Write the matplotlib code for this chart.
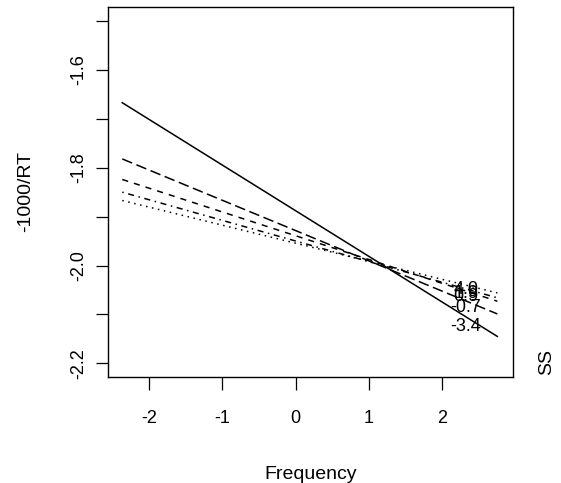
import numpy as np
import matplotlib
matplotlib.use("Agg")
import matplotlib.pyplot as plt

plt.rcParams['font.family'] = ['Liberation Sans', 'DejaVu Sans']
plt.rcParams['axes.unicode_minus'] = False

# effect of Frequency on -1000/RT for several values of SS
ss_labels = ['-3.4', '-0.7', '0.9', '1.9', '4.0']
freq_range = [-2.37, 2.76]
rt_start = [-1.667, -1.782, -1.824, -1.850, -1.867]
rt_end = [-2.145, -2.099, -2.073, -2.066, -2.056]
dash_styles = [(None, None), (7, 3), (4, 4), (1, 3, 4, 3), (1, 3)]

fig = plt.figure(figsize=(5.61, 4.83), dpi=100)
ax = fig.add_axes([0.192, 0.22, 0.723, 0.766])

x = np.array(freq_range)
for lab, y0, y1, d in zip(ss_labels, rt_start, rt_end, dash_styles):
    line, = ax.plot(x, [y0, y1], color='black', lw=1.1)
    if d[0] is not None:
        line.set_dashes(d)
    # label near the right end of each line
    lx, ly = 2.33, np.interp(2.55, x, [y0, y1])
    ax.text(lx, ly, lab, ha='center', va='center', fontsize=13)

ax.set_xlim(-2.569, 2.978)
ax.set_ylim(-2.2274, -1.4708)
ax.set_xticks([-2, -1, 0, 1, 2])
ax.set_yticks(np.arange(-2.2, -1.45, 0.1))
ax.set_yticklabels(['-2.2', '', '-2.0', '', '-1.8', '', '-1.6', ''])
ax.tick_params(axis='both', direction='out', length=9, width=0.9, labelsize=13)
ax.tick_params(axis='x', pad=15)
ax.tick_params(axis='y', pad=6)
for lab in ax.get_yticklabels():
    lab.set_rotation(90)
    lab.set_va('center')
for s in ax.spines.values():
    s.set_linewidth(1)

ax.set_xlabel('Frequency', fontsize=14, labelpad=28)
ax.set_ylabel('-1000/RT', fontsize=14, labelpad=26)
fig.text(0.975, 0.25, 'SS', rotation=90, ha='center', va='center', fontsize=14)

fig.savefig('out.png', dpi=100)
